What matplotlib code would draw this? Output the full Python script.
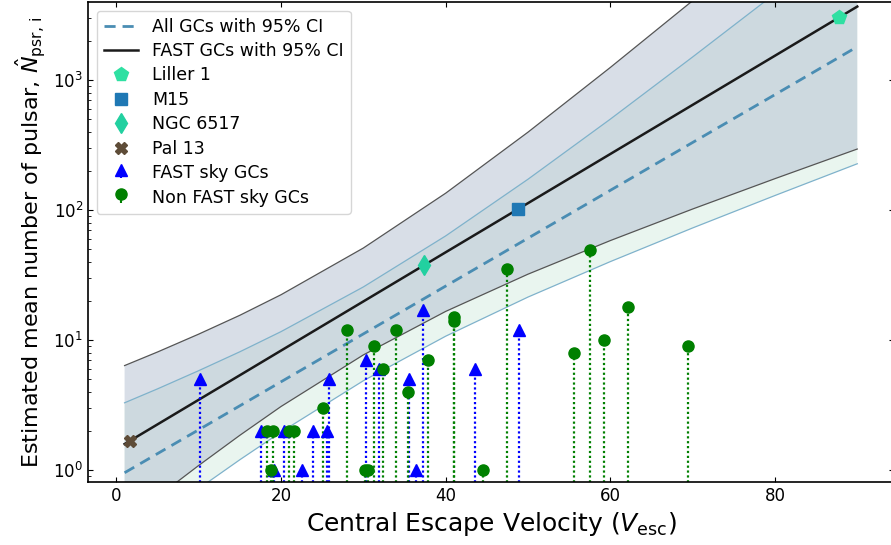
import matplotlib
matplotlib.use("Agg")
import matplotlib.pyplot as plt

# model curves (mean and 95% CI) on a Vesc grid
vesc_grid = [1, 5, 10, 15, 20, 30, 40, 50, 60, 70, 80, 90]
all_mean = [0.953, 1.337, 2.04, 3.12, 4.77, 11.14, 26.0, 60.7, 141.7, 330.8, 772, 1803]
all_lo = [0.276, 0.425, 0.719, 1.20, 1.96, 4.86, 10.7, 21.4, 40.1, 72.8, 129.3, 226.9]
all_hi = [3.29, 4.21, 5.81, 8.12, 11.6, 25.6, 63.2, 172.5, 500, 1504, 4613, 14330]
fast_mean = [1.585, 2.245, 3.47, 5.36, 8.29, 19.8, 47.3, 112.9, 269.7, 644, 1538, 3674]
fast_lo = [0.395, 0.622, 1.084, 1.85, 3.08, 7.68, 16.6, 32.1, 58.2, 101.8, 174.3, 294.6]
fast_hi = [6.36, 8.09, 11.1, 15.5, 22.3, 51.0, 134.7, 397, 1249, 4075, 13580, 45800]

# predicted values for a few named clusters
named_gcs = ["Liller 1", "M15", "NGC 6517", "Pal 13"]
named_vesc = [87.8, 48.8, 37.4, 1.66]
named_npsr = [3080, 102, 37.7, 1.68]

# observed pulsar counts
fast_vesc = [10.17, 17.54, 19.15, 20.41, 22.5, 23.85, 25.63, 25.87, 30.37, 31.87,
             35.59, 36.38, 37.29, 43.59, 48.89]
fast_npsr = [5, 2, 1, 2, 1, 2, 2, 5, 7, 6, 5, 1, 17, 6, 12]

nonfast_vesc = [18.34, 19.0, 18.77, 21.01, 21.52, 25.14, 27.98, 30.21, 30.61, 31.3,
                32.36, 33.97, 35.47, 37.9, 41.02, 41.02, 44.58, 47.42, 55.59, 57.54,
                59.27, 62.19, 69.4]
nonfast_npsr = [2, 2, 1, 2, 2, 3, 12, 1, 1, 9, 6, 12, 4, 7, 15, 14, 1, 35, 8, 49,
                10, 18, 9]

named_style = {
    "Liller 1": dict(marker="p", color="#2fe0a2", ms=10),
    "M15": dict(marker="s", color="#1f78b4", ms=8.5),
    "NGC 6517": dict(marker="d", color="#22d0a0", ms=10),
    "Pal 13": dict(marker="X", color="#5e4c38", ms=9),
}

fig, ax = plt.subplots(figsize=(8.91, 5.45), dpi=100)
fig.subplots_adjust(left=0.0988, right=894 / 891, bottom=0.1156, top=0.9963)
ax.set_yscale("log")

# confidence bands
ax.fill_between(vesc_grid, all_lo, all_hi, color=(185/255, 225/255, 205/255), alpha=0.3, lw=0)
ax.fill_between(vesc_grid, fast_lo, fast_hi, color=(179/255, 191/255, 209/255), alpha=0.5, lw=0)
for y in (all_lo, all_hi):
    ax.plot(vesc_grid, y, color="#7fb2cb", lw=0.9)
for y in (fast_lo, fast_hi):
    ax.plot(vesc_grid, y, color="#555555", lw=0.9)

ax.plot(vesc_grid, all_mean, "--", color="#4a8db3", lw=2, dashes=(4, 2.5), label="All GCs with 95% CI")
ax.plot(vesc_grid, fast_mean, "-", color="#1a1a1a", lw=1.8, label="FAST GCs with 95% CI")

for name, x, y in zip(named_gcs, named_vesc, named_npsr):
    ax.plot([x], [y], ls="none", label=name, zorder=4, **named_style[name])

st = ax.stem(fast_vesc, fast_npsr, linefmt="b:", markerfmt="b^", basefmt=" ",
             bottom=0.1, label="FAST sky GCs")
plt.setp(st.markerline, ms=8, zorder=3)
plt.setp(st.stemlines, lw=1.6, linestyle=(0, (1, 1.2)))

st2 = ax.stem(nonfast_vesc, nonfast_npsr, linefmt="g:", markerfmt="go", basefmt=" ",
              bottom=0.1, label="Non FAST sky GCs")
plt.setp(st2.markerline, ms=8, zorder=3)
plt.setp(st2.stemlines, lw=1.6, linestyle=(0, (1, 1.2)))

ax.set_xlim(-3.44, 94.46)
ax.set_ylim(0.809, 3981)
ax.tick_params(which="both", direction="in", top=True, right=True, labelsize=12)
for sp in ax.spines.values():
    sp.set_linewidth(1.2)

ax.set_xlabel(r"Central Escape Velocity ($V_{\rm esc}$)", fontsize=18)
ax.set_ylabel(r"Estimated mean number of pulsar, $\hat{N}_{\rm psr,\,i}$", fontsize=16)
ax.legend(loc="upper left", fontsize=12.5, labelspacing=0.37)

fig.savefig("out.png", dpi=100)
